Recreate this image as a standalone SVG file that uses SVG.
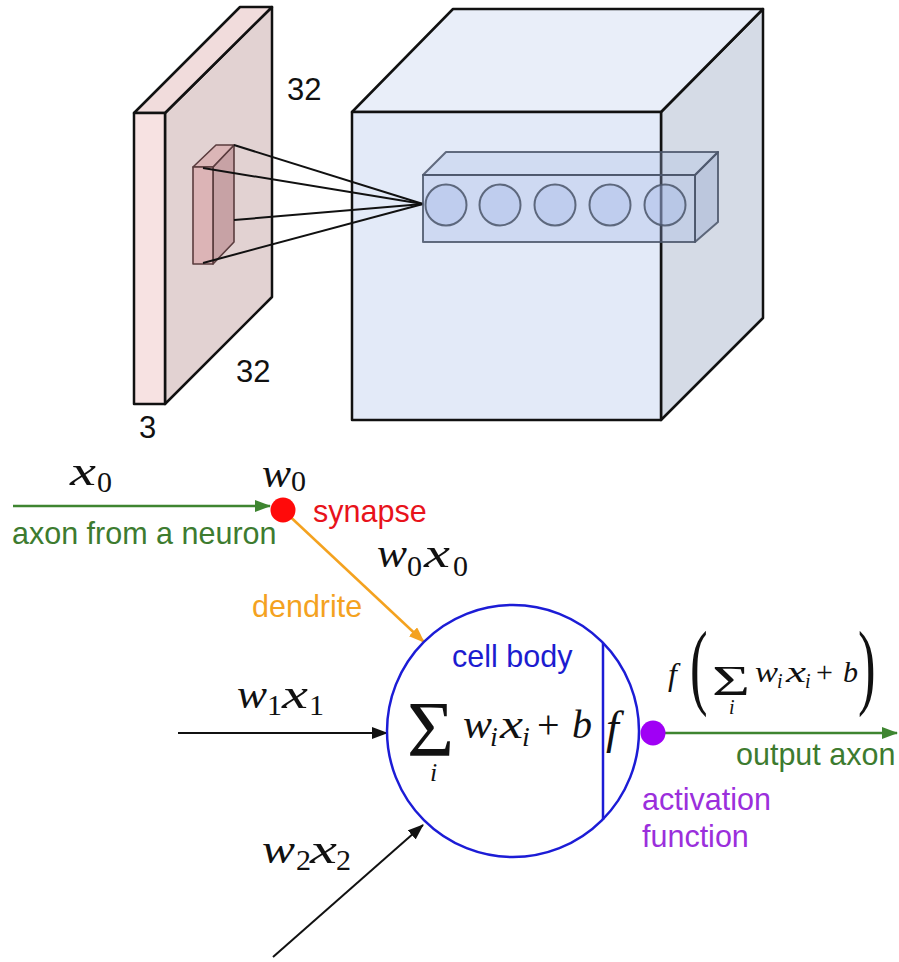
<svg xmlns="http://www.w3.org/2000/svg" width="899" height="962" viewBox="0 0 899 962">
<style>
.edge{stroke:#111;stroke-width:2.5;stroke-linejoin:round}
.sm{stroke:#5a3c3e;stroke-width:1.6;stroke-linejoin:round}
.bar{stroke:#4a5568;stroke-opacity:0.85;stroke-width:2;stroke-linejoin:round}
.lbl{font-family:"Liberation Sans",Arial,sans-serif;font-size:30.5px}
.num{font-family:"Liberation Sans",Arial,sans-serif;font-size:31px;fill:#111}
.m{font-family:"Liberation Serif","Times New Roman",serif;font-style:italic;font-size:40px;fill:#111}
.s{font-family:"Liberation Serif","Times New Roman",serif;font-size:30px;fill:#111}
.u{font-family:"Liberation Serif","Times New Roman",serif;fill:#111}
.si{font-family:"Liberation Serif","Times New Roman",serif;font-style:italic;fill:#111}
</style>
<defs>
<marker id="ag" markerUnits="userSpaceOnUse" markerWidth="16" markerHeight="12" refX="15" refY="6" orient="auto"><path d="M0,0 L16,6 L0,12 z" fill="#3e8530"/></marker>
<marker id="ao" markerUnits="userSpaceOnUse" markerWidth="16" markerHeight="12" refX="15" refY="6" orient="auto"><path d="M0,0 L16,6 L0,12 z" fill="#f4a21f"/></marker>
<marker id="ak" markerUnits="userSpaceOnUse" markerWidth="16" markerHeight="12" refX="15" refY="6" orient="auto"><path d="M0,0 L16,6 L0,12 z" fill="#111"/></marker>
</defs>

<g id="input-volume">
<polygon class="edge" points="165,113 272,7 272,297 165,404" fill="#e2d2d2"/>
<polygon class="edge" points="134,113 240,7 272,7 165,113" fill="#f1dcdc"/>
<polygon class="edge" points="134,113 165,113 165,404 134,404" fill="#f7e2e2"/>
<text class="num" x="287" y="100">32</text>
<text class="num" x="236" y="382">32</text>
<text class="num" x="139" y="438">3</text>
</g>

<g id="receptive-field">
<polygon class="sm" points="213,167 234,145 234,242 213,264" fill="#c49ca0" fill-opacity="0.9"/>
<polygon class="sm" points="193,167 216,145 234,145 213,167" fill="#dab2b4" fill-opacity="0.9"/>
<polygon class="sm" points="193,167 213,167 213,264 193,264" fill="#dcb0b3" fill-opacity="0.9"/>
</g>

<g id="output-volume">
<polygon class="edge" points="661,112 763,9 763,318 661,420" fill="#d5dbe6"/>
<polygon class="edge" points="352,112 453,9 763,9 661,112" fill="#e9eef9"/>
<polygon class="edge" points="352,112 661,112 661,420 352,420" fill="#e3eaf8"/>
</g>

<g id="connectors">
<g stroke="#111" stroke-width="2" fill="none">
<line x1="234" y1="145" x2="423" y2="204"/>
<line x1="203" y1="168" x2="423" y2="204"/>
<line x1="234" y1="220" x2="423" y2="204"/>
<line x1="203" y1="263" x2="423" y2="204"/>
</g>
<line x1="13" y1="506" x2="270" y2="506" stroke="#3e8530" stroke-width="2.5" marker-end="url(#ag)"/>
<line x1="283" y1="510" x2="424" y2="642" stroke="#f4a21f" stroke-width="2.5" marker-end="url(#ao)"/>
<line x1="178" y1="733" x2="387" y2="733" stroke="#111" stroke-width="2" marker-end="url(#ak)"/>
<line x1="273" y1="957" x2="423" y2="825" stroke="#111" stroke-width="2" marker-end="url(#ak)"/>
<line x1="653" y1="733" x2="897" y2="733" stroke="#3e8530" stroke-width="2.5" marker-end="url(#ag)"/>
</g>

<g id="neuron-column">
<polygon class="bar" points="695,175 718,152 718,222 695,242" fill="#8fa3cc" fill-opacity="0.35"/>
<polygon class="bar" points="423,175 446,152 718,152 695,175" fill="#a9bde6" fill-opacity="0.3"/>
<polygon class="bar" points="423,175 695,175 695,242 423,242" fill="#9fb4e4" fill-opacity="0.3"/>
<g class="bar" fill="#a3b8e8" fill-opacity="0.35">
<circle cx="446" cy="205" r="20.5"/>
<circle cx="500" cy="205" r="20.5"/>
<circle cx="555" cy="205" r="20.5"/>
<circle cx="610" cy="205" r="20.5"/>
<circle cx="665" cy="205" r="20.5"/>
</g>
</g>

<g id="input-x0">
<text class="m" x="70" y="485" textLength="26" lengthAdjust="spacingAndGlyphs">x</text><text class="s" x="97" y="492">0</text>
<text class="lbl" x="12" y="544" fill="#3d7b2f">axon from a neuron</text>
</g>

<g id="synapse">
<circle cx="283" cy="510" r="12.5" fill="#ff0a0a"/>
<text class="m" x="262" y="487" textLength="29" lengthAdjust="spacingAndGlyphs">w</text><text class="s" x="291" y="491">0</text>
<text class="lbl" x="313" y="522" fill="#e8131b">synapse</text>
</g>

<g id="dendrite">
<text class="m" x="377" y="567" textLength="30" lengthAdjust="spacingAndGlyphs">w</text><text class="s" x="407" y="576">0</text>
<text class="m" x="424" y="567" textLength="26" lengthAdjust="spacingAndGlyphs">x</text><text class="s" x="453" y="576">0</text>
<text class="lbl" x="252" y="617" fill="#f4a21f">dendrite</text>
</g>

<g id="input-w1x1">
<text class="m" x="237" y="708" textLength="30" lengthAdjust="spacingAndGlyphs">w</text><text class="s" x="267" y="715">1</text>
<text class="m" x="282" y="708" textLength="26" lengthAdjust="spacingAndGlyphs">x</text><text class="s" x="309" y="715">1</text>
</g>

<g id="input-w2x2">
<text class="m" x="262" y="863" textLength="33" lengthAdjust="spacingAndGlyphs">w</text><text class="s" x="296" y="870">2</text>
<text class="m" x="310" y="863" textLength="27" lengthAdjust="spacingAndGlyphs">x</text><text class="s" x="336" y="870">2</text>
</g>

<g id="cell-body">
<circle cx="513" cy="731" r="126" fill="none" stroke="#1c1cd6" stroke-width="2.5"/>
<line x1="603" y1="643" x2="603" y2="820" stroke="#1c1cd6" stroke-width="2.5"/>
<text class="lbl" x="452" y="667" fill="#1c1cd0">cell body</text>
<text class="u" x="407" y="755" font-size="78" textLength="47" lengthAdjust="spacingAndGlyphs">Σ</text>
<text class="si" x="430" y="781" font-size="26">i</text>
<text class="m" x="463" y="738" textLength="29" lengthAdjust="spacingAndGlyphs">w</text>
<text class="si" x="490" y="746" font-size="28">i</text>
<text class="m" x="500" y="738" textLength="23" lengthAdjust="spacingAndGlyphs">x</text>
<text class="si" x="522" y="746" font-size="28">i</text>
<text class="u" x="537" y="738" font-size="40">+</text>
<text class="m" x="572" y="738">b</text>
<text class="si" x="606" y="743" font-size="46">f</text>
</g>

<g id="activation">
<circle cx="653" cy="733" r="12.5" fill="#a000f5"/>
<text class="lbl" x="642" y="810" fill="#9b2fdc">activation</text>
<text class="lbl" x="642" y="847" fill="#9b2fdc">function</text>
</g>

<g id="output">
<text class="lbl" x="736" y="765" fill="#3d7b2f">output axon</text>
<text class="si" x="668" y="685" font-size="32">f</text>
<text class="u" font-size="96" transform="translate(690,697) scale(0.55,1)">(</text>
<text class="u" x="712" y="695" font-size="42" textLength="38" lengthAdjust="spacingAndGlyphs">Σ</text>
<text class="si" x="729" y="714" font-size="20">i</text>
<text class="si" x="755" y="682" font-size="30" textLength="23" lengthAdjust="spacingAndGlyphs">w</text>
<text class="si" x="777" y="688" font-size="20">i</text>
<text class="si" x="786" y="682" font-size="30" textLength="20" lengthAdjust="spacingAndGlyphs">x</text>
<text class="si" x="805" y="688" font-size="20">i</text>
<text class="u" x="816" y="682" font-size="30">+</text>
<text class="si" x="843" y="682" font-size="30">b</text>
<text class="u" font-size="96" transform="translate(858,697) scale(0.55,1)">)</text>
</g>
</svg>
